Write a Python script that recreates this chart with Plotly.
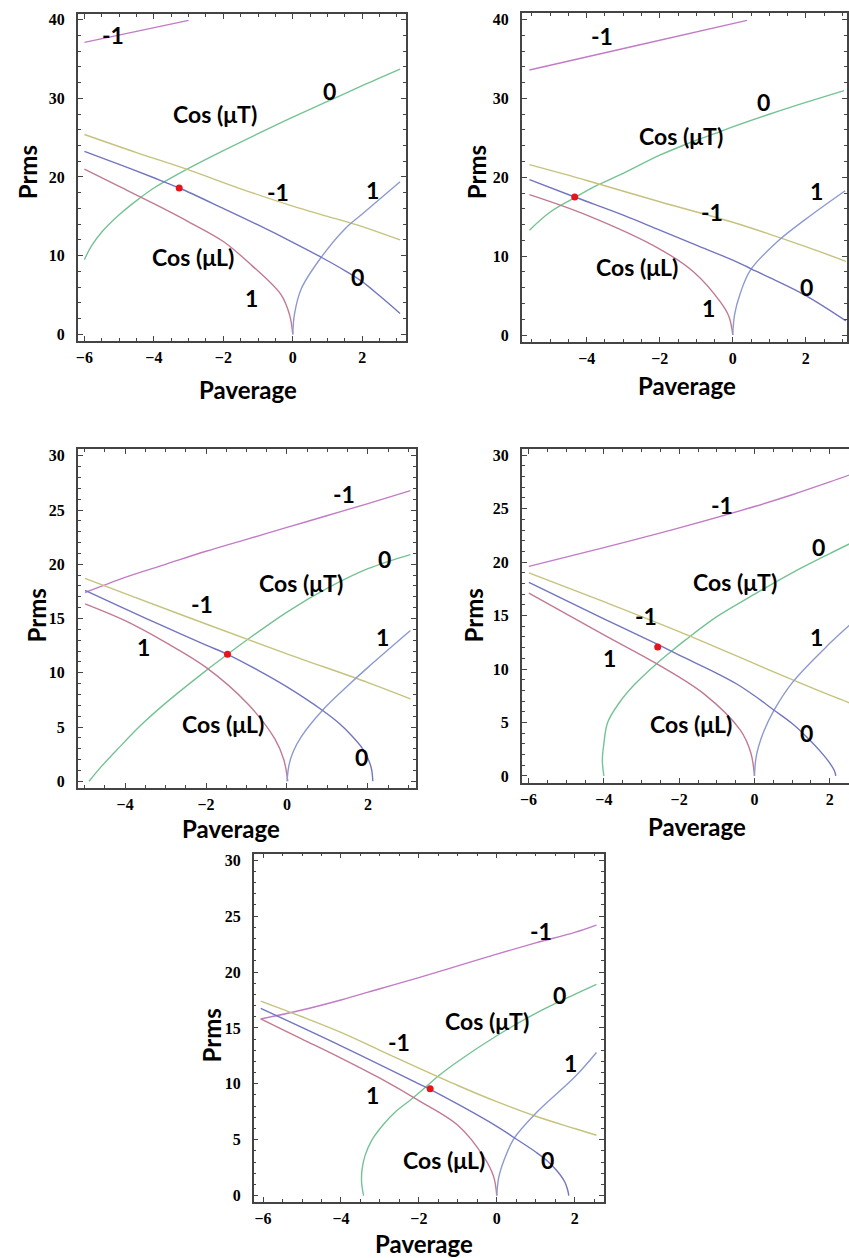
import plotly.graph_objects as go

# ---- curve samples per panel: (Paverage, Prms) ----
# T_M1 : cos(muT) = -1   T_0 : cos(muT) = 0   T_1 : cos(muT) = 1
# L_M1 : cos(muL) = -1   L_0 : cos(muL) = 0   L_1 : cos(muL) = 1

P1_T_M1 = [(-6, 37.1), (-4.5, 38.5), (-3, 39.9)]
P1_T_0 = [(-6, 9.5), (-5.8, 11.2), (-5.5, 13.0), (-5, 15.2), (-4.5, 17.0), (-4, 18.6), (-3.5, 19.9),
          (-3, 21.1), (-2, 23.35), (-1, 25.5), (0, 27.6), (1, 29.6), (2, 31.6), (3.09, 33.7)]
P1_T_1 = [(0, 0), (0.05, 2.6), (0.245, 5.8), (0.82, 9.8), (1.5, 13.4), (2, 15.3), (3.09, 19.4)]
P1_L_M1 = [(-6, 25.4), (-4.5, 23.1), (-3, 20.9), (-1.5, 18.5), (0, 16.3), (1, 15.0), (2, 13.7), (3.09, 12.0)]
P1_L_0 = [(-6, 23.25), (-5, 21.6), (-4, 19.9), (-3.27, 18.6), (-2, 16.0), (-1, 13.9), (0, 11.7),
          (0.82, 9.8), (1.5, 8.1), (2, 6.7), (2.5, 4.9), (3.09, 2.66)]
P1_L_1 = [(-6, 21.0), (-5, 18.8), (-4, 16.6), (-3, 14.3), (-2, 11.8), (-1.19, 8.8), (-0.33, 5.0),
          (-0.09, 2.45), (0, 0)]
P1_DOT = (-3.27, 18.6)
P1_LABELS = [("-1", -5.19, 38.0), ("Cos (μT)", -2.25, 28.0), ("0", 1.06, 30.9), ("-1", -0.43, 18.1),
             ("1", 2.3, 18.3), ("Cos (μL)", -2.87, 9.83), ("0", 1.87, 7.3), ("1", -1.19, 4.56)]

P2_T_M1 = [(-5.57, 33.6), (-2.6, 36.75), (0.39, 39.9)]
P2_T_0 = [(-5.57, 13.3), (-5, 15.6), (-4.34, 17.4), (-3.71, 19.0), (-3, 20.5), (-2, 22.8),
          (-1, 24.7), (-0.52, 25.5), (0, 26.4), (1, 28.0), (2, 29.5), (3.05, 31.0)]
P2_T_1 = [(0, 0), (0.05, 2.6), (0.2, 5.2), (0.48, 8.2), (1.21, 11.8), (2, 14.7), (3.08, 18.3)]
P2_L_M1 = [(-5.57, 21.6), (-4, 19.6), (-2, 16.9), (0, 14.3), (1, 12.8), (2, 11.2), (3.1, 9.35)]
P2_L_0 = [(-5.57, 19.7), (-4.33, 17.5), (-3, 15.2), (-2, 13.3), (-1, 11.4), (0, 9.5), (0.5, 8.4),
          (1, 7.3), (2, 5.0), (3.1, 1.8)]
P2_L_1 = [(-5.57, 17.8), (-4, 15.2), (-2, 10.9), (-1.07, 8.0), (-0.34, 4.2), (-0.1, 2.3), (0, 0)]
P2_DOT = (-4.33, 17.5)
P2_LABELS = [("-1", -3.57, 37.9), ("0", 0.85, 29.5), ("Cos (μT)", -1.43, 25.3), ("1", 2.3, 18.3),
             ("-1", -0.56, 15.6), ("Cos (μL)", -2.61, 8.6), ("0", 2.03, 6.1), ("1", -0.66, 3.4)]

P3_T_M1 = [(-4.99, 17.4), (-4, 18.8), (-3, 20.0), (-2, 21.2), (-1, 22.3), (0, 23.4), (1, 24.5),
           (2, 25.6), (3.05, 26.8)]
P3_T_0 = [(-4.89, 0), (-4.6, 1.3), (-4.2, 2.9), (-3.6, 5.2), (-3, 7.2), (-2, 10.2), (-1.47, 11.7),
          (-1, 13.0), (0, 15.6), (1, 17.8), (2, 19.6), (3.05, 20.9)]
P3_T_1 = [(0, 0), (0.05, 1.5), (0.15, 2.7), (0.35, 4.1), (0.89, 6.6), (1.5, 8.8), (2, 10.5), (3.05, 13.9)]
P3_L_M1 = [(-4.99, 18.7), (-4, 17.3), (-2, 14.5), (0, 11.75), (2, 9.1), (3.05, 7.6)]
P3_L_0 = [(-4.99, 17.6), (-4, 15.9), (-3, 14.2), (-2, 12.55), (-1.47, 11.7), (-0.7, 10.2), (0, 8.7),
          (0.89, 6.5), (1.3, 5.3), (1.6, 4.2), (1.85, 3.1), (2.0, 2.1), (2.09, 1.1), (2.12, 0)]
P3_L_1 = [(-4.99, 16.35), (-4, 14.8), (-3, 12.8), (-2, 10.5), (-0.96, 7.1), (-0.3, 3.9), (-0.08, 2.0), (0.02, 0)]
P3_DOT = (-1.47, 11.7)
P3_LABELS = [("-1", 1.42, 26.5), ("0", 2.41, 20.5), ("Cos (μT)", 0.35, 18.3), ("-1", -2.11, 16.3),
             ("1", 2.37, 13.3), ("1", -3.55, 12.4), ("Cos (μL)", -1.58, 5.3), ("0", 1.83, 2.2)]

P4_T_M1 = [(-5.99, 19.6), (-4, 21.35), (-2, 23.2), (0, 25.2), (1, 26.3), (2, 27.5), (2.52, 28.15)]
P4_T_0 = [(-4.0, 0), (-4.04, 1.5), (-4.0, 3.0), (-3.9, 5.0), (-3.6, 6.8), (-3.2, 8.5), (-2.6, 10.5),
          (-2.23, 11.6), (-1.84, 12.7), (-1, 14.9), (0, 17.0), (1, 19.0), (2, 20.8), (2.52, 21.7)]
P4_T_1 = [(0, 0), (0.05, 1.9), (0.24, 4.1), (0.52, 6.15), (1.02, 8.8), (2, 12.4), (2.52, 14.1)]
P4_L_M1 = [(-5.99, 19.0), (-4, 16.3), (-2, 13.5), (0, 10.5), (1, 9.0), (2, 7.55), (2.52, 6.84)]
P4_L_0 = [(-5.99, 18.1), (-4, 14.7), (-2.57, 12.3), (-2, 11.3), (-1, 9.6), (-0.47, 8.6), (0, 7.5),
          (0.52, 6.15), (1, 4.9), (1.4, 3.6), (1.75, 2.3), (2.0, 1.2), (2.12, 0.5), (2.16, 0)]
P4_L_1 = [(-5.99, 17.1), (-4, 13.2), (-2.6, 10.5), (-1.35, 7.7), (-0.38, 4.3), (-0.1, 2.2), (0, 0)]
P4_DOT = (-2.57, 12.06)
P4_LABELS = [("-1", -0.87, 25.3), ("0", 1.7, 21.4), ("Cos (μT)", -0.51, 18.1), ("-1", -2.87, 15.0),
             ("1", 1.65, 13.0), ("1", -3.84, 11.0), ("Cos (μL)", -1.69, 4.9), ("0", 1.39, 4.0)]

P5_T_M1 = [(-6.06, 15.8), (-5, 16.6), (-4, 17.5), (-3, 18.5), (-2, 19.5), (-1, 20.55), (0, 21.6),
           (1, 22.6), (2, 23.55), (2.56, 24.2)]
P5_T_0 = [(-3.42, 0), (-3.47, 1.2), (-3.46, 2.3), (-3.38, 3.6), (-3.2, 5.0), (-2.9, 6.4), (-2.6, 7.5),
          (-2.2, 8.6), (-1.86, 9.6), (-1.5, 10.7), (-1, 12.0), (0, 14.3), (1, 16.3), (2, 18.0), (2.56, 18.9)]
P5_T_1 = [(0, 0), (0.05, 1.6), (0.19, 3.2), (0.44, 5.1), (1.04, 7.5), (2, 10.6), (2.56, 12.8)]
P5_L_M1 = [(-6.06, 17.4), (-5, 16.0), (-4, 14.6), (-3, 13.0), (-2, 11.4), (-1, 9.85), (0, 8.4),
           (1, 7.1), (2, 6.0), (2.56, 5.4)]
P5_L_0 = [(-6.06, 16.75), (-4, 13.4), (-2, 10.0), (-1.71, 9.5), (0, 6.2), (0.44, 5.2), (1.0, 3.9),
          (1.3, 3.1), (1.55, 2.2), (1.75, 1.2), (1.82, 0.5), (1.85, 0)]
P5_L_1 = [(-6.06, 15.8), (-5, 14.0), (-4, 12.3), (-3, 10.5), (-2, 8.5), (-1, 6.3), (-0.32, 3.4),
          (-0.08, 1.7), (0, 0)]
P5_DOT = (-1.71, 9.56)
P5_LABELS = [("-1", 1.13, 23.7), ("0", 1.6, 17.9), ("Cos (μT)", -0.24, 15.65), ("-1", -2.5, 13.7),
             ("1", 1.9, 11.9), ("1", -3.19, 9.0), ("Cos (μL)", -1.35, 3.2), ("0", 1.3, 3.2)]

# ---- styling ----
CURVE_COLORS = {
    "T_M1": "#c27cc6",
    "T_0": "#74c394",
    "T_1": "#8d9ad0",
    "L_M1": "#c6c27e",
    "L_0": "#7275c0",
    "L_1": "#c27a94",
}
FRAME = "#444444"
LABEL_FONT = dict(family="Lato", size=23, color="black", weight=700)
TITLE_FONT = dict(family="Lato", size=24, color="black", weight=700)
TICK_FONT = dict(family="Liberation Serif", size=16, color="black", weight=700)

W, H = 849, 1258

panels = [
    dict(curves={"T_M1": P1_T_M1, "T_0": P1_T_0, "T_1": P1_T_1, "L_M1": P1_L_M1, "L_0": P1_L_0, "L_1": P1_L_1},
         dot=P1_DOT, labels=P1_LABELS, xdom=(76, 405), ydom=(11, 339),
         xr=(-6.19, 3.262), yr=(-0.80, 40.72), ydt=10, ymin=2,
         xtitle=(247, 388), ytitle=(25, 170), right=True),
    dict(curves={"T_M1": P2_T_M1, "T_0": P2_T_0, "T_1": P2_T_1, "L_M1": P2_L_M1, "L_0": P2_L_0, "L_1": P2_L_1},
         dot=P2_DOT, labels=P2_LABELS, xdom=(521, 847), ydom=(10, 340),
         xr=(-5.78, 3.13), yr=(-0.84, 40.84), ydt=10, ymin=2,
         xtitle=(687, 384), ytitle=(475, 170), right=True),
    dict(curves={"T_M1": P3_T_M1, "T_0": P3_T_0, "T_1": P3_T_1, "L_M1": P3_L_M1, "L_0": P3_L_0, "L_1": P3_L_1},
         dot=P3_DOT, labels=P3_LABELS, xdom=(76, 415), ydom=(448, 788),
         xr=(-5.168, 3.188), yr=(-0.61, 30.61), ydt=5, ymin=1,
         xtitle=(230, 829), ytitle=(35, 615), right=True),
    dict(curves={"T_M1": P4_T_M1, "T_0": P4_T_0, "T_1": P4_T_1, "L_M1": P4_L_M1, "L_0": P4_L_0, "L_1": P4_L_1},
         dot=P4_DOT, labels=P4_LABELS, xdom=(521, 849), ydom=(448, 783),
         xr=(-6.18, 2.51), yr=(-0.65, 30.56), ydt=5, ymin=1,
         xtitle=(697, 827), ytitle=(473, 615), right=False),
    dict(curves={"T_M1": P5_T_M1, "T_0": P5_T_0, "T_1": P5_T_1, "L_M1": P5_L_M1, "L_0": P5_L_0, "L_1": P5_L_1},
         dot=P5_DOT, labels=P5_LABELS, xdom=(252.3, 603.3), ydom=(854, 1204),
         xr=(-6.24, 2.75), yr=(-0.59, 30.59), ydt=5, ymin=1,
         xtitle=(423, 1245), ytitle=(210, 1037), right=True),
]

fig = go.Figure()
annotations = []
layout_axes = {}

draw_order = ["T_M1", "T_0", "L_M1", "L_1", "T_1", "L_0"]

for i, p in enumerate(panels, start=1):
    xa = "x" if i == 1 else f"x{i}"
    ya = "y" if i == 1 else f"y{i}"
    for key in draw_order:
        pts = p["curves"][key]
        fig.add_trace(go.Scatter(
            x=[a for a, _ in pts], y=[b for _, b in pts],
            mode="lines", line=dict(color=CURVE_COLORS[key], width=1.4, shape="spline", smoothing=1.0),
            xaxis=xa, yaxis=ya, showlegend=False, hoverinfo="skip"))
    fig.add_trace(go.Scatter(
        x=[p["dot"][0]], y=[p["dot"][1]], mode="markers",
        marker=dict(color="#e8141c", size=7), xaxis=xa, yaxis=ya, showlegend=False))

    for text, lx, ly in p["labels"]:
        annotations.append(dict(text=text, x=lx, y=ly, xref=xa, yref=ya, showarrow=False,
                                font=LABEL_FONT))

    x0, x1 = p["xdom"]
    top, bottom = p["ydom"]
    common = dict(showline=True, linecolor=FRAME, linewidth=1.5, showgrid=False, zeroline=False,
                  ticks="inside", ticklen=5, tickwidth=1, tickcolor=FRAME, tickfont=TICK_FONT)
    layout_axes["xaxis" if i == 1 else f"xaxis{i}"] = dict(
        common, domain=[x0 / W, x1 / W], range=list(p["xr"]), anchor=ya,
        tick0=0, dtick=2, mirror="ticks", ticklabelstandoff=1,
        minor=dict(dtick=0.5, ticks="inside", ticklen=3, tickcolor=FRAME, tickwidth=1))
    layout_axes["yaxis" if i == 1 else f"yaxis{i}"] = dict(
        common, domain=[1 - bottom / H, 1 - top / H], range=list(p["yr"]), anchor=xa,
        tick0=0, dtick=p["ydt"], mirror="ticks" if p["right"] else False, ticklabelstandoff=8,
        minor=dict(dtick=p["ymin"], ticks="inside", ticklen=3, tickcolor=FRAME, tickwidth=1))

    tx, ty = p["xtitle"]
    annotations.append(dict(text="Paverage", x=tx / W, y=1 - ty / H, xref="paper", yref="paper",
                            showarrow=False, font=TITLE_FONT, xanchor="center", yanchor="middle"))
    rx, ry = p["ytitle"]
    annotations.append(dict(text="Prms", x=rx / W, y=1 - ry / H, xref="paper", yref="paper",
                            showarrow=False, font=TITLE_FONT, textangle=-90,
                            xanchor="center", yanchor="middle"))

fig.update_layout(
    width=W, height=H, margin=dict(l=0, r=0, t=0, b=0),
    paper_bgcolor="white", plot_bgcolor="white",
    annotations=annotations, **layout_axes)

fig.write_html("out.html")
